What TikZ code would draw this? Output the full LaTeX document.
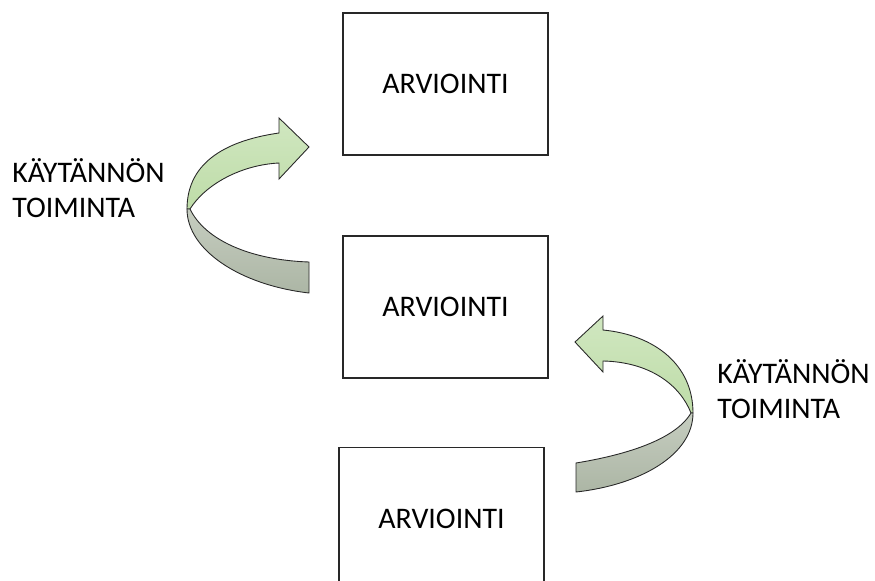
\documentclass[tikz,border=0pt]{standalone}
\usepackage{fontspec}
\setmainfont{Carlito}
\usepackage{xcolor}
\usepackage{tikz}
\usetikzlibrary{positioning}
\definecolor{leafgreen}{RGB}{208,231,192}
\definecolor{leafgreendark}{RGB}{190,220,168}
\definecolor{stemgray}{RGB}{198,205,192}
\definecolor{stemgraydark}{RGB}{172,182,165}
\definecolor{rimgray}{RGB}{40,40,40}

\begin{document}
\begin{tikzpicture}[x=0.02cm,y=-0.02cm,every node/.style={font=\fontsize{17}{19.5}\selectfont}]
\tikzstyle{arvio}=[draw=rimgray,line width=1pt,minimum width=4.1cm,minimum height=2.84cm,inner sep=0pt]
\tikzstyle{toiminta}=[align=left,inner sep=0pt,anchor=base west]
\tikzstyle{kaarivihrea}=[draw=rimgray,line width=0.5pt,top color=leafgreen,bottom color=leafgreendark]
\tikzstyle{kaariharmaa}=[draw=rimgray,line width=0.5pt,top color=stemgray,bottom color=stemgraydark]
\useasboundingbox (0,0) rectangle (875,581);
\node[arvio] (arv1) at (445.5,84) {ARVIOINTI};
\node[arvio,below=1.58cm of arv1] (arv2) {ARVIOINTI};
\node[arvio,below=1.36cm of arv2,xshift=-0.08cm] (arv3) {ARVIOINTI};
\node[toiminta] (kt1) at (12,217) {KÄYTÄNNÖN\\TOIMINTA};
\node[toiminta] (kt2) at (717,418) {KÄYTÄNNÖN\\TOIMINTA};
\draw[kaarivihrea] (187,209) -- (190,209) .. controls (205,185) and (240,165) .. (279,163)
  -- (279,179) -- (309,147) -- (279,118) -- (279,133)
  .. controls (230,140) and (187,160) .. (187,209) -- cycle;
\draw[kaariharmaa] (187,209) .. controls (187,250) and (240,285) .. (309,293)
  -- (309,262) .. controls (250,260) and (205,240) .. (190,209) -- cycle;
\draw[kaarivihrea] (603,330) .. controls (655,335) and (693,365) .. (693,413)
  -- (691,413) .. controls (680,385) and (650,362) .. (603,361)
  -- (603,372) -- (575,342) -- (603,316) -- cycle;
\draw[kaariharmaa] (693,413) .. controls (693,455) and (640,485) .. (576,492)
  -- (576,463) .. controls (625,455) and (675,440) .. (691,413) -- cycle;
\end{tikzpicture}
\end{document}
